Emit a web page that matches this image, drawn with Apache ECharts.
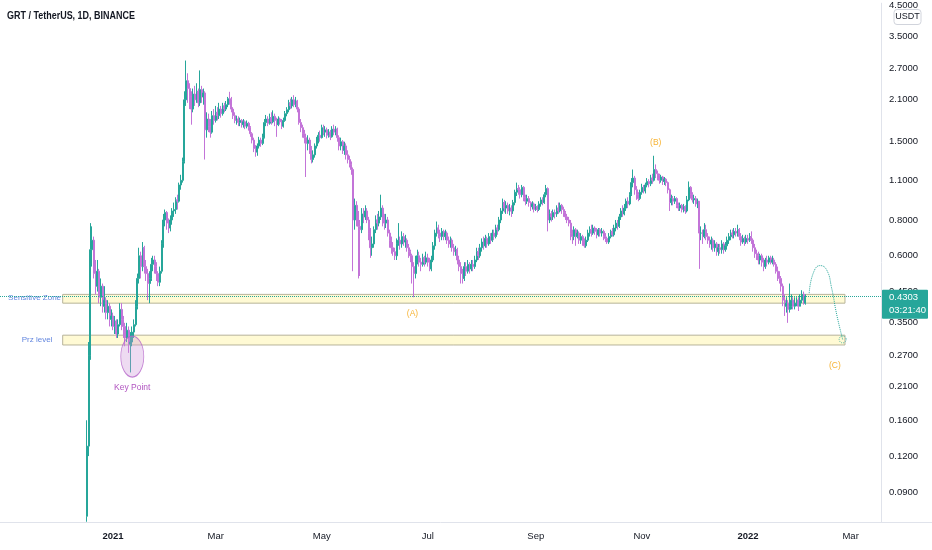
<!DOCTYPE html>
<html><head><meta charset="utf-8">
<script src="https://cdn.jsdelivr.net/npm/echarts@6/dist/echarts.min.js"></script>
<style>html,body{margin:0;padding:0;background:#fff}#c{width:932px;height:550px}</style>
</head><body><div id="c"></div>
<script>
// ---------- data ----------
const titleText = 'GRT / TetherUS, 1D, BINANCE';
const firstDay = '2020-12-17';
const firstOpen = 0.074;
const closes = [
0.13,0.27,0.63,0.68,0.52,0.47,0.53,0.43,0.47,0.40,
0.42,0.38,0.40,0.36,0.37,0.34,0.355,0.32,0.345,0.39,
0.36,0.34,0.31,0.33,0.295,0.30,0.325,0.345,0.40,0.50,
0.60,0.55,0.64,0.55,0.52,0.48,0.50,0.56,0.58,0.55,
0.52,0.485,0.53,0.66,0.80,0.85,0.78,0.75,0.80,0.86,
0.87,0.94,0.93,1.06,1.10,1.28,2.10,2.45,2.30,2.15,
1.95,2.20,2.10,2.25,2.05,2.28,2.15,2.22,1.65,1.80,
1.70,1.62,1.85,1.78,1.90,1.85,1.95,1.88,2.00,1.95,
2.02,2.12,2.10,1.95,1.85,1.78,1.80,1.75,1.78,1.72,
1.76,1.70,1.74,1.68,1.60,1.52,1.42,1.38,1.45,1.52,
1.48,1.55,1.75,1.80,1.74,1.82,1.76,1.84,1.78,1.72,
1.80,1.76,1.70,1.78,1.88,1.94,2.05,2.00,2.10,2.02,
2.08,1.95,1.75,1.68,1.60,1.55,1.48,1.52,1.40,1.30,
1.35,1.45,1.52,1.58,1.55,1.68,1.62,1.65,1.58,1.62,
1.56,1.66,1.62,1.66,1.55,1.45,1.50,1.40,1.45,1.35,
1.30,1.25,1.20,0.80,0.90,0.80,0.76,0.74,0.84,0.82,
0.86,0.80,0.72,0.64,0.66,0.74,0.80,0.78,0.82,0.88,
0.80,0.78,0.80,0.72,0.68,0.64,0.62,0.60,0.66,0.68,
0.66,0.70,0.67,0.68,0.64,0.62,0.60,0.55,0.52,0.58,
0.60,0.57,0.56,0.59,0.57,0.59,0.57,0.54,0.58,0.65,
0.72,0.75,0.72,0.70,0.73,0.70,0.72,0.68,0.66,0.68,
0.64,0.62,0.63,0.58,0.55,0.52,0.50,0.55,0.53,0.56,
0.54,0.56,0.55,0.58,0.62,0.60,0.64,0.67,0.65,0.69,
0.66,0.70,0.68,0.72,0.70,0.75,0.74,0.80,0.86,0.92,
0.88,0.90,0.86,0.88,0.86,0.92,1.00,1.03,1.02,0.98,
1.04,0.96,0.93,0.95,0.92,0.89,0.91,0.87,0.89,0.87,
0.91,0.94,0.92,0.98,1.03,0.80,0.84,0.82,0.85,0.84,
0.88,0.86,0.90,0.87,0.85,0.82,0.80,0.78,0.72,0.70,
0.74,0.70,0.72,0.68,0.70,0.67,0.65,0.68,0.72,0.74,
0.72,0.75,0.73,0.71,0.74,0.72,0.73,0.70,0.69,0.67,
0.70,0.73,0.71,0.75,0.78,0.76,0.82,0.86,0.84,0.88,
0.93,0.91,0.98,1.08,1.12,1.02,0.98,0.95,1.00,1.04,
1.01,1.06,1.09,1.07,1.12,1.10,1.20,1.16,1.14,1.10,
1.13,1.09,1.11,1.08,1.02,0.92,0.95,0.93,0.95,0.90,
0.88,0.90,0.87,0.89,0.86,0.94,1.04,0.98,0.94,0.95,
0.91,0.93,0.72,0.72,0.70,0.74,0.70,0.68,0.66,0.68,
0.64,0.66,0.62,0.64,0.63,0.66,0.63,0.65,0.68,0.70,
0.72,0.71,0.73,0.72,0.74,0.70,0.67,0.69,0.67,0.69,
0.68,0.70,0.68,0.64,0.61,0.60,0.58,0.60,0.57,0.55,
0.58,0.57,0.59,0.57,0.58,0.56,0.53,0.51,0.50,0.47,
0.42,0.40,0.41,0.39,0.40,0.42,0.40,0.41,0.42,0.40,
0.42,0.44,0.41,0.4303];
const highs = [
0.16,0.30,0.78,0.76,0.70,0.58,0.58,0.54,0.50,0.48,
0.47,0.43,0.42,0.41,0.39,0.38,0.37,0.36,0.36,0.41,
0.41,0.37,0.35,0.35,0.34,0.325,0.34,0.36,0.42,0.52,
0.64,0.62,0.67,0.65,0.58,0.54,0.53,0.59,0.60,0.60,
0.57,0.53,0.55,0.68,0.84,0.87,0.86,0.81,0.83,0.88,
0.92,0.96,0.98,1.08,1.15,1.32,2.25,2.88,2.60,2.40,
2.25,2.30,2.35,2.40,2.30,2.66,2.35,2.30,2.25,1.90,
1.88,1.80,1.92,1.95,2.00,1.98,2.05,2.00,2.05,2.05,
2.08,2.15,2.24,2.15,1.98,1.90,1.85,1.84,1.82,1.80,
1.80,1.78,1.78,1.76,1.70,1.62,1.55,1.46,1.48,1.56,
1.55,1.60,1.80,1.86,1.84,1.88,1.90,1.93,1.88,1.82,
1.84,1.82,1.80,1.82,1.92,1.98,2.10,2.12,2.15,2.18,
2.15,2.10,1.98,1.80,1.72,1.65,1.60,1.58,1.55,1.45,
1.40,1.48,1.56,1.62,1.64,1.72,1.72,1.70,1.68,1.66,
1.65,1.70,1.72,1.70,1.68,1.58,1.55,1.52,1.50,1.48,
1.40,1.34,1.28,1.22,0.95,0.93,0.86,0.80,0.88,0.88,
0.90,0.88,0.82,0.75,0.70,0.76,0.83,0.84,0.86,0.98,
0.90,0.84,0.84,0.82,0.74,0.70,0.67,0.64,0.69,0.78,
0.70,0.73,0.72,0.71,0.69,0.66,0.63,0.61,0.57,0.60,
0.63,0.62,0.59,0.61,0.60,0.62,0.61,0.59,0.60,0.67,
0.74,0.79,0.77,0.74,0.75,0.74,0.74,0.73,0.70,0.70,
0.69,0.66,0.65,0.64,0.60,0.57,0.54,0.57,0.57,0.58,
0.57,0.58,0.58,0.60,0.64,0.64,0.66,0.69,0.70,0.71,
0.70,0.72,0.72,0.74,0.74,0.77,0.77,0.82,0.88,0.95,
0.94,0.93,0.92,0.91,0.90,0.94,1.02,1.08,1.06,1.04,
1.06,1.05,0.98,0.98,0.97,0.93,0.93,0.92,0.91,0.90,
0.93,0.96,0.96,1.00,1.06,1.04,0.87,0.86,0.87,0.87,
0.90,0.92,0.92,0.91,0.89,0.86,0.84,0.82,0.80,0.74,
0.76,0.75,0.74,0.73,0.72,0.71,0.69,0.70,0.74,0.76,
0.77,0.77,0.76,0.75,0.75,0.75,0.75,0.74,0.72,0.70,
0.72,0.74,0.75,0.77,0.80,0.80,0.84,0.88,0.90,0.91,
0.95,0.96,1.00,1.12,1.20,1.14,1.05,1.00,1.02,1.07,
1.06,1.08,1.12,1.11,1.15,1.16,1.34,1.25,1.19,1.16,
1.15,1.14,1.13,1.12,1.09,1.03,0.98,0.97,0.97,0.96,
0.92,0.92,0.91,0.91,0.90,0.97,1.09,1.05,1.00,0.98,
0.97,0.95,0.93,0.76,0.74,0.78,0.77,0.72,0.70,0.70,
0.69,0.68,0.67,0.66,0.66,0.68,0.67,0.67,0.70,0.72,
0.74,0.74,0.75,0.75,0.77,0.75,0.72,0.71,0.70,0.71,
0.71,0.72,0.73,0.69,0.66,0.63,0.62,0.61,0.61,0.59,
0.59,0.60,0.60,0.60,0.60,0.59,0.57,0.55,0.53,0.51,
0.48,0.44,0.43,0.42,0.48,0.44,0.43,0.43,0.43,0.43,
0.44,0.455,0.45,0.44];
const lows = [
0.0708,0.12,0.26,0.55,0.50,0.44,0.45,0.41,0.40,0.38,
0.38,0.36,0.36,0.34,0.34,0.33,0.32,0.31,0.31,0.34,
0.33,0.31,0.29,0.30,0.275,0.235,0.29,0.31,0.34,0.39,
0.48,0.50,0.53,0.52,0.49,0.42,0.41,0.49,0.53,0.52,
0.49,0.47,0.47,0.52,0.64,0.76,0.74,0.72,0.73,0.77,
0.82,0.84,0.87,0.92,1.02,1.08,1.26,2.00,2.05,1.95,
1.72,1.90,2.00,2.05,1.98,2.00,2.05,2.02,1.30,1.55,
1.62,1.55,1.60,1.72,1.75,1.78,1.80,1.82,1.85,1.90,
1.92,1.98,2.02,1.90,1.80,1.74,1.72,1.70,1.70,1.68,
1.68,1.66,1.67,1.64,1.56,1.48,1.38,1.33,1.34,1.42,
1.44,1.46,1.54,1.70,1.70,1.72,1.72,1.74,1.70,1.56,
1.70,1.72,1.66,1.68,1.76,1.84,1.90,1.95,1.96,1.98,
1.98,1.90,1.72,1.62,1.55,1.48,1.13,1.40,1.36,1.26,
1.27,1.32,1.42,1.48,1.50,1.54,1.58,1.56,1.54,1.55,
1.52,1.55,1.58,1.58,1.50,1.40,1.40,1.36,1.35,1.30,
1.26,1.22,1.15,0.53,0.74,0.76,0.50,0.51,0.72,0.78,
0.80,0.78,0.68,0.59,0.60,0.64,0.72,0.74,0.76,0.80,
0.76,0.74,0.75,0.70,0.64,0.61,0.60,0.58,0.58,0.65,
0.63,0.64,0.65,0.64,0.62,0.59,0.57,0.48,0.43,0.50,
0.56,0.55,0.53,0.55,0.55,0.56,0.55,0.53,0.53,0.57,
0.63,0.70,0.69,0.67,0.68,0.68,0.68,0.66,0.64,0.64,
0.62,0.60,0.60,0.56,0.53,0.48,0.48,0.49,0.51,0.52,
0.52,0.53,0.53,0.54,0.57,0.58,0.59,0.62,0.63,0.64,
0.64,0.65,0.66,0.67,0.68,0.69,0.71,0.73,0.78,0.84,
0.85,0.84,0.84,0.83,0.82,0.84,0.90,0.97,0.98,0.95,
0.96,0.93,0.90,0.91,0.89,0.86,0.87,0.85,0.86,0.85,
0.86,0.89,0.90,0.91,0.96,0.73,0.78,0.79,0.80,0.81,
0.82,0.84,0.85,0.84,0.82,0.80,0.78,0.76,0.68,0.66,
0.68,0.65,0.69,0.66,0.66,0.65,0.64,0.64,0.67,0.70,
0.70,0.71,0.71,0.69,0.70,0.70,0.70,0.68,0.67,0.66,
0.66,0.69,0.70,0.70,0.73,0.74,0.75,0.80,0.82,0.83,
0.86,0.88,0.90,0.97,1.04,0.98,0.94,0.93,0.94,0.98,
0.99,0.99,1.04,1.04,1.05,1.07,1.09,1.12,1.10,1.07,
1.08,1.06,1.06,1.05,0.99,0.86,0.90,0.90,0.91,0.88,
0.86,0.86,0.85,0.85,0.84,0.85,0.93,0.95,0.92,0.91,
0.89,0.88,0.54,0.68,0.66,0.69,0.68,0.66,0.64,0.63,
0.62,0.62,0.60,0.60,0.61,0.61,0.61,0.62,0.63,0.66,
0.68,0.69,0.69,0.70,0.70,0.68,0.65,0.66,0.65,0.66,
0.66,0.67,0.66,0.62,0.59,0.58,0.56,0.56,0.55,0.53,
0.54,0.55,0.56,0.56,0.56,0.55,0.52,0.49,0.48,0.45,
0.40,0.37,0.38,0.35,0.38,0.39,0.39,0.39,0.40,0.385,
0.40,0.41,0.405,0.405];

const priceTicks = [4.5,3.5,2.7,2.1,1.5,1.1,0.8,0.6,0.45,0.35,0.27,0.21,0.16,0.12,0.09];
const dateTicks = ['2021-01-01','2021-03-01','2021-05-01','2021-07-01','2021-09-01','2021-11-01','2022-01-01','2022-03-01'];
const monthNames = ['Jan','Feb','Mar','Apr','May','Jun','Jul','Aug','Sep','Oct','Nov','Dec'];
const viewStart = '2020-10-28T01:00:00Z';
const viewEnd = '2022-03-18T11:00:00Z';
const priceTop = 4.566;
const priceBottom = 0.07066;
const lastPrice = 0.4303;
const countdown = '03:21:40';
const currency = 'USDT';

const zoneNames = ['Sensitive Zone','Prz level'];
const zoneFrom = ['2020-12-03T02:00:00Z','2020-12-03T02:00:00Z'];
const zoneTo = ['2022-02-25T18:00:00Z','2022-02-25T18:00:00Z'];
const zoneTop = [0.440, 0.317];
const zoneBottom = [0.410, 0.293];

const projDates = ['2022-02-05T05:00:00Z','2022-02-07T12:00:00Z','2022-02-11T10:00:00Z','2022-02-15T05:00:00Z','2022-02-18T02:00:00Z','2022-02-21T00:00:00Z','2022-02-24T10:00:00Z'];
const projPrices = [0.4445,0.5215,0.5545,0.5358,0.4627,0.3741,0.3064];

const keyPointDate = '2021-01-12T02:00:00Z';
const keyPointPrice = 0.267;

const noteTexts = ['Sensitive Zone','Prz level','Key Point','(A)','(B)','(C)'];
const noteKinds = ['zone','zone','key','wave','wave','wave'];
const noteDates = ['2020-11-16T22:00:00Z','2020-11-18T08:00:00Z','2021-01-12T01:00:00Z','2021-06-22T04:00:00Z','2021-11-09T00:00:00Z','2022-02-19T23:00:00Z'];
const notePrices = [0.427,0.3064,0.2082,0.377,1.493,0.2489];

// ---------- build ----------
const DAY = 86400000;
const t0 = Date.parse(firstDay + 'T00:00:00Z');
const L = Math.log;
const candles = closes.map((c, i) => {
  const o = i === 0 ? firstOpen : closes[i - 1];
  return [t0 + i * DAY, L(o), L(c), L(lows[i]), L(highs[i])];
});
const FONT = "'Liberation Sans',Arial,sans-serif";
const UP = '#26a69a', DOWN = '#c374d8';
const noteStyle = {
  zone: {color: '#3a66d6', fontSize: 8},
  key: {color: '#9c27b0', fontSize: 8.5},
  wave: {color: '#f5a000', fontSize: 8.5}
};

const chart = echarts.init(document.getElementById('c'), null, {renderer: 'canvas'});
chart.setOption({
  animation: false,
  backgroundColor: '#ffffff',
  textStyle: {fontFamily: FONT},
  grid: {left: 0, right: 51, top: 0, bottom: 28},
  xAxis: {
    type: 'value', min: Date.parse(viewStart), max: Date.parse(viewEnd),
    axisLine: {show: true, onZero: false, lineStyle: {color: '#e0e3eb'}},
    axisTick: {show: false}, splitLine: {show: false},
    axisLabel: {
      customValues: dateTicks.map(s => Date.parse(s + 'T00:00:00Z')),
      margin: 9, color: '#131722', fontSize: 9.5, fontFamily: FONT,
      formatter: v => { const d = new Date(v); const m = d.getUTCMonth(); return m === 0 ? '{y|' + d.getUTCFullYear() + '}' : monthNames[m]; },
      rich: {y: {fontWeight: 'bold', fontSize: 9.5, color: '#131722', fontFamily: FONT}}
    }
  },
  yAxis: {
    type: 'value', position: 'right', min: L(priceBottom), max: L(priceTop),
    axisLine: {show: true, onZero: false, lineStyle: {color: '#e0e3eb'}},
    axisTick: {show: false}, splitLine: {show: false},
    axisLabel: {
      customValues: priceTicks.map(L), margin: 8, color: '#131722', fontSize: 9.5, fontFamily: FONT,
      formatter: v => Math.exp(v).toFixed(4)
    }
  },
  series: [
    {
      type: 'candlestick', name: 'GRTUSDT', data: candles, barWidth: 1.5, clip: true,
      encode: {x: 0, y: [1, 2, 3, 4]},
      itemStyle: {color: UP, color0: DOWN, borderColor: UP, borderColor0: DOWN, borderWidth: 1},
      markArea: {
        silent: true,
        itemStyle: {color: 'rgba(255,240,120,0.32)', borderColor: '#b7b39a', borderWidth: 1},
        label: {show: false},
        data: zoneNames.map((n, i) => [
          {name: n, xAxis: Date.parse(zoneFrom[i]), yAxis: L(zoneTop[i])},
          {xAxis: Date.parse(zoneTo[i]), yAxis: L(zoneBottom[i])}
        ])
      },
      markLine: {
        silent: true, symbol: ['none', 'none'], label: {show: false},
        lineStyle: {type: 'dotted', color: UP, width: 1},
        data: [{yAxis: L(lastPrice)}]
      }
    },
    {
      type: 'line', name: 'projection', smooth: 0.5, symbol: 'none', silent: true,
      lineStyle: {type: 'dotted', color: UP, width: 1},
      data: projDates.map((d, i) => [Date.parse(d), L(projPrices[i])])
    },
    {
      type: 'scatter', name: 'projEnd', silent: true, symbol: 'circle', symbolSize: 7,
      itemStyle: {color: 'rgba(255,255,255,0)', borderColor: UP, borderWidth: 1, borderType: 'dotted'},
      data: [[Date.parse(projDates[projDates.length - 1]), L(projPrices[projPrices.length - 1])]]
    },
    {
      type: 'scatter', name: 'keyPoint', silent: true, symbol: 'circle', symbolSize: [23, 41], z: 3,
      itemStyle: {color: 'rgba(206,147,216,0.42)', borderColor: '#b565c9', borderWidth: 1},
      data: [[Date.parse(keyPointDate), L(keyPointPrice)]]
    },
    {
      type: 'scatter', name: 'notes', silent: true, symbolSize: 1,
      itemStyle: {color: 'rgba(0,0,0,0)'},
      label: {show: true, position: 'inside', formatter: p => p.name, fontFamily: FONT},
      data: noteTexts.map((t, i) => ({
        name: t, value: [Date.parse(noteDates[i]), L(notePrices[i])],
        label: noteStyle[noteKinds[i]]
      }))
    }
  ]
});

const py = chart.convertToPixel({yAxisIndex: 0}, L(lastPrice));
chart.setOption({
  graphic: [
    {type: 'text', x: 7, y: 16, scaleX: 0.78, style: {text: titleText, fill: '#131722', font: 'bold 11.5px ' + FONT, verticalAlign: 'middle'}, z: 20},
    {type: 'line', shape: {x1: 881, y1: 522.5, x2: 932, y2: 522.5}, style: {stroke: '#e0e3eb', lineWidth: 1}, z: 10},
    {type: 'rect', shape: {x: 894, y: 9.5, width: 27, height: 15, r: 3}, style: {fill: '#fff', stroke: '#d1d4dc', lineWidth: 1}, z: 20},
    {type: 'text', x: 907.5, y: 17, style: {text: currency, fill: '#131722', font: '9px ' + FONT, align: 'center', verticalAlign: 'middle'}, z: 21},
    {type: 'rect', shape: {x: 882, y: py - 7.5, width: 46, height: 29, r: 1}, style: {fill: UP}, z: 20},
    {type: 'text', x: 889, y: py, style: {text: lastPrice.toFixed(4), fill: '#fff', font: '9.5px ' + FONT, verticalAlign: 'middle'}, z: 21},
    {type: 'text', x: 889, y: py + 13.5, style: {text: countdown, fill: '#fff', font: '9.5px ' + FONT, verticalAlign: 'middle'}, z: 21}
  ]
});
</script>
</body></html>
